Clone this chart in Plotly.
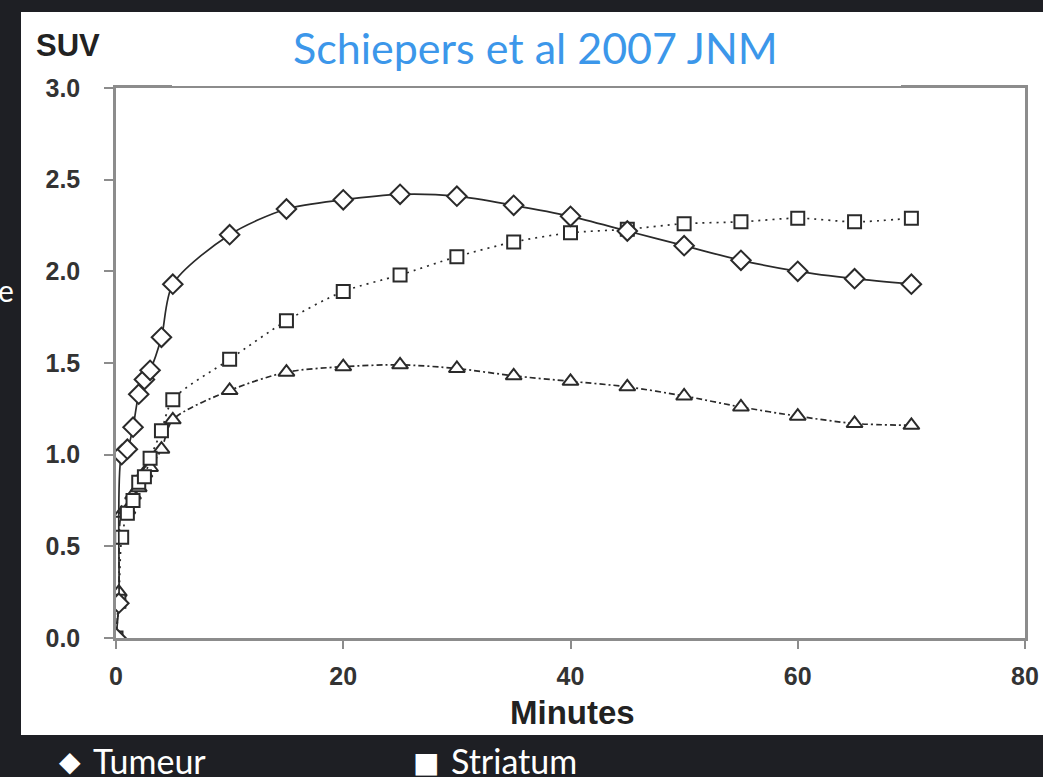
import plotly.graph_objects as go

# Time points (minutes)
minutes = [0, 0.25, 0.5, 1, 1.5, 2, 2.5, 3, 4, 5,
           10, 15, 20, 25, 30, 35, 40, 45, 50, 55, 60, 65, 70]

tumeur = [0.0, 0.19, 1.0, 1.03, 1.15, 1.33, 1.41, 1.46, 1.64, 1.93,
          2.20, 2.34, 2.39, 2.42, 2.41, 2.36, 2.30, 2.22, 2.14, 2.06, 2.00, 1.96, 1.93]
striatum = [0.0, 0.20, 0.55, 0.68, 0.75, 0.85, 0.88, 0.98, 1.13, 1.30,
            1.52, 1.73, 1.89, 1.98, 2.08, 2.16, 2.21, 2.23, 2.26, 2.27, 2.29, 2.27, 2.29]
third = [0.0, 0.25, 0.68, 0.70, 0.78, 0.82, 0.90, 0.93, 1.03, 1.19,
         1.35, 1.45, 1.48, 1.49, 1.47, 1.43, 1.40, 1.37, 1.32, 1.26, 1.21, 1.17, 1.16]

x_ticks = [0, 20, 40, 60, 80]
y_ticks = [0.0, 0.5, 1.0, 1.5, 2.0, 2.5, 3.0]
y_tick_labels = ["0.0", "0.5", "1.0", "1.5", "2.0", "2.5", "3.0"]

W, H = 1043, 777
L, R, T, B = 116, 18, 88, 139
BG = "#1e1f24"
LINE = "#2a2a2a"

fig = go.Figure()

def add_series(y, symbol, size, dash, name):
    fig.add_trace(go.Scatter(
        x=minutes, y=y, mode="lines+markers", name=name,
        line=dict(color=LINE, width=1.7, dash=dash, shape="spline", smoothing=0.8),
        marker=dict(symbol=symbol, size=size, color="white",
                    line=dict(color="#2a2a2a", width=2)),
        showlegend=False,
    ))

add_series(third, "triangle-up", 14, "6px,3px,2px,3px", "Autre")
add_series(striatum, "square", 13, "2px,5px", "Striatum")
add_series(tumeur, "diamond", 15, "solid", "Tumeur")

axis_font = dict(family="Liberation Sans, Arial", size=25, color="#333333", weight="bold")

fig.update_xaxes(
    range=[0, 80], tickvals=x_ticks, ticktext=[str(v) for v in x_ticks],
    showgrid=False, zeroline=False, showline=True, mirror=True,
    linecolor="#8c8c8c", linewidth=2.5, ticks="outside", ticklen=8,
    tickcolor="#8c8c8c", tickwidth=1.5, tickfont=axis_font,
    ticklabelstandoff=6, ticklabeloverflow="allow", automargin=False,
)
fig.update_yaxes(
    range=[0, 3.0], tickvals=y_ticks, ticktext=y_tick_labels,
    showgrid=False, zeroline=False, showline=True, mirror=True,
    linecolor="#8c8c8c", linewidth=2.5, ticks="outside", ticklen=9,
    tickcolor="#8c8c8c", tickwidth=1.5, tickfont=axis_font,
    ticklabelstandoff=19, ticklabeloverflow="allow", automargin=False,
)

PW = W - L - R
PH = H - T - B

def px(xp):
    return (xp - L) / PW

def py(yp):
    return (H - B - yp) / PH

# white slide panel behind the chart
fig.add_shape(type="rect", xref="paper", yref="paper",
              x0=px(21), x1=px(W + 4), y0=py(735), y1=py(12),
              fillcolor="white", line=dict(width=0), layer="below")
# white title box overlapping the top frame
fig.add_shape(type="rect", xref="paper", yref="paper",
              x0=px(172), x1=px(901), y0=py(86), y1=py(12),
              fillcolor="white", line=dict(width=0), layer="above")

def label(text, x, y, size, color, family, anchor="center"):
    fig.add_annotation(text=text, xref="paper", yref="paper",
                       x=px(x), y=py(y), xanchor=anchor, yanchor="middle",
                       showarrow=False,
                       font=dict(family=family, size=size, color=color))

label("Schiepers et al 2007 JNM", 535, 47, 43, "#3c97ea", "Lato")
label("<b>SUV</b>", 68, 45, 31, "#222222", "Liberation Sans, Arial")
label("<b>Minutes</b>", 572, 713, 33, "#222222", "Liberation Sans, Arial")
label("◆", 70, 761, 28, "white", "DejaVu Sans")
label("Tumeur", 91, 760, 34, "white", "Lato", anchor="left")
label("■", 426, 762, 28, "white", "DejaVu Sans")
label("Striatum", 449, 760, 34, "white", "Lato", anchor="left")
label("e", -4, 290, 30, "white", "Lato", anchor="left")

fig.update_layout(
    width=W, height=H, autosize=False,
    margin=dict(l=L, r=R, t=T, b=B),
    paper_bgcolor=BG, plot_bgcolor="white",
)

fig.write_html(
    "out.html",
    config={"displayModeBar": False},
    post_script="document.body.style.margin='0';document.body.style.overflow='hidden';"
                "document.body.style.background='" + BG + "';",
)
